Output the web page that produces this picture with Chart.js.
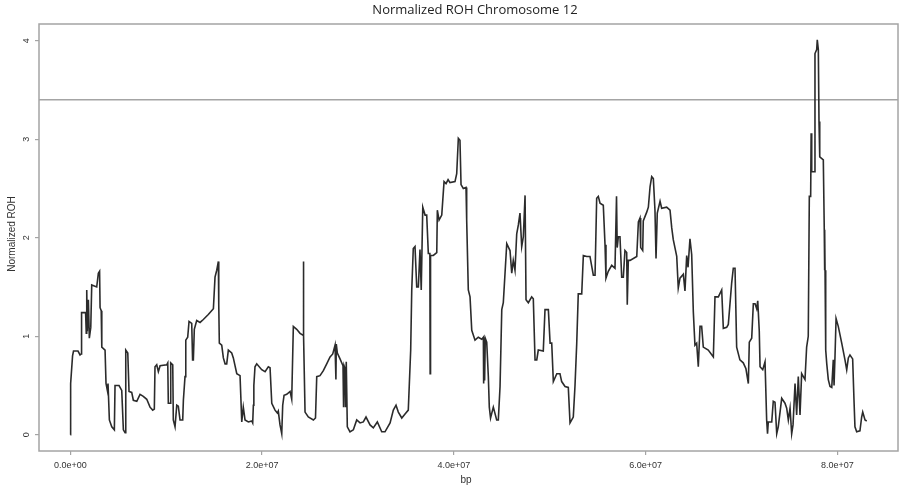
<!DOCTYPE html>
<html>
<head>
<meta charset="utf-8">
<title>Normalized ROH Chromosome 12</title>
<script src="https://cdn.jsdelivr.net/npm/chart.js@4.4.0/dist/chart.umd.min.js"></script>
<style>
    html, body { margin: 0; padding: 0; background: #ffffff; }
    #wrap { width: 902px; height: 489px; }
</style>
</head>
<body>
<div id="wrap"><canvas id="rohChart"></canvas></div>
<script>
// window positions along chromosome 12, in Mb
const positionMb = [
    0.00, 0.03, 0.23, 0.33, 0.80, 1.01, 1.12, 1.17, 1.59, 1.66, 1.71, 1.77, 1.88, 1.98, 2.13, 2.23, 2.75, 2.92, 3.05, 3.10,
    3.22, 3.28, 3.62, 3.72, 3.86, 3.93, 4.07, 4.32, 4.59, 4.66, 5.08, 5.36, 5.53, 5.71, 5.78, 5.99, 6.12, 6.40, 6.57, 6.93,
    7.27, 7.61, 7.97, 8.31, 8.59, 8.76, 8.83, 9.01, 9.18, 9.36, 10.05, 10.16, 10.22, 10.40, 10.47, 10.68, 10.74, 10.92, 11.10, 11.26,
    11.44, 11.72, 11.79, 11.96, 12.04, 12.24, 12.38, 12.66, 12.75, 12.83, 12.93, 13.18, 13.53, 13.87, 14.39, 14.92, 15.09, 15.27, 15.44, 15.48,
    15.54, 15.79, 15.96, 16.14, 16.31, 16.48, 16.83, 17.00, 17.36, 17.70, 17.88, 18.04, 18.22, 18.57, 18.92, 19.02, 19.09, 19.14, 19.26, 19.44,
    19.96, 20.31, 20.65, 20.83, 21.01, 21.35, 21.59, 21.69, 21.87, 22.05, 22.15, 22.29, 22.57, 22.92, 23.09, 23.26, 23.61, 23.96, 24.27, 24.30,
    24.35, 24.48, 24.82, 25.35, 25.57, 25.70, 26.04, 26.39, 26.74, 27.09, 27.37, 27.61, 27.70, 27.74, 27.85, 28.13, 28.44, 28.50, 28.55, 28.65,
    28.70, 28.78, 28.89, 29.17, 29.52, 29.87, 30.22, 30.56, 30.84, 31.26, 31.60, 32.02, 32.48, 32.82, 33.35, 33.69, 33.97, 34.21, 34.57, 34.91,
    35.25, 35.50, 35.61, 35.77, 35.95, 36.13, 36.30, 36.47, 36.60, 36.76, 37.00, 37.17, 37.34, 37.50, 37.53, 37.57, 37.86, 38.22, 38.28, 38.46,
    38.74, 38.98, 39.19, 39.40, 39.60, 40.12, 40.30, 40.47, 40.64, 40.75, 40.99, 41.27, 41.34, 41.51, 41.69, 41.87, 42.21, 42.55, 42.91, 43.08,
    43.11, 43.17, 43.21, 43.28, 43.43, 43.60, 43.70, 43.83, 44.12, 44.47, 44.64, 44.82, 45.00, 45.16, 45.34, 45.52, 45.86, 46.04, 46.20, 46.38,
    46.56, 46.73, 46.90, 47.08, 47.25, 47.43, 47.53, 47.77, 48.12, 48.29, 48.47, 48.65, 48.81, 49.33, 49.51, 49.86, 50.04, 50.21, 50.38, 50.74,
    51.07, 51.25, 51.60, 51.94, 52.12, 52.46, 52.64, 52.82, 52.98, 53.34, 53.51, 53.86, 54.20, 54.55, 54.73, 54.90, 55.07, 55.25, 55.59, 55.77,
    55.87, 56.11, 56.47, 56.81, 56.97, 57.04, 57.16, 57.33, 57.51, 57.68, 57.85, 58.03, 58.09, 58.20, 58.38, 59.08, 59.25, 59.42, 59.49, 59.70,
    59.76, 60.12, 60.29, 60.47, 60.64, 60.81, 60.98, 61.09, 61.22, 61.51, 61.68, 62.20, 62.55, 62.73, 62.89, 63.25, 63.41, 63.59, 63.94, 64.11,
    64.29, 64.43, 64.63, 64.81, 64.98, 65.15, 65.33, 65.50, 65.68, 65.85, 66.02, 66.54, 67.07, 67.24, 67.59, 67.94, 68.11, 68.46, 68.63, 68.98,
    69.15, 69.33, 69.50, 69.84, 70.19, 70.47, 70.72, 70.82, 71.07, 71.24, 71.42, 71.59, 71.70, 71.86, 71.94, 72.22, 72.46, 72.63, 72.72, 72.80,
    73.16, 73.32, 73.50, 73.68, 73.84, 74.20, 74.54, 74.72, 74.89, 75.07, 75.24, 75.38, 75.59, 75.76, 75.93, 76.11, 76.28, 76.63, 76.80, 76.97,
    77.08, 77.22, 77.27, 77.33, 77.60, 77.67, 77.85, 77.91, 78.02, 78.09, 78.14, 78.17, 78.19, 78.54, 78.64, 78.67, 78.69, 78.72, 78.79, 78.90,
    79.06, 79.24, 79.42, 79.58, 79.66, 79.76, 79.87, 80.10, 80.46, 80.80, 80.98, 81.15, 81.32, 81.60, 81.74, 81.84, 82.02, 82.36, 82.54, 82.65,
    82.89, 83.07
];

const normalizedRoh = [
    0.00, 0.52, 0.80, 0.85, 0.85, 0.81, 0.82, 1.24, 1.24, 1.03, 1.47, 1.05, 1.37, 0.98, 1.09, 1.52, 1.50, 1.64, 1.66, 1.29,
    1.26, 0.89, 0.86, 0.52, 0.45, 0.52, 0.15, 0.08, 0.05, 0.50, 0.50, 0.45, 0.05, 0.02, 0.86, 0.83, 0.44, 0.43, 0.35, 0.34,
    0.41, 0.39, 0.36, 0.28, 0.25, 0.26, 0.69, 0.71, 0.64, 0.70, 0.71, 0.73, 0.32, 0.32, 0.73, 0.71, 0.15, 0.08, 0.30, 0.29,
    0.15, 0.15, 0.35, 0.59, 0.96, 0.99, 1.15, 1.13, 0.76, 0.76, 1.07, 1.16, 1.14, 1.17, 1.22, 1.28, 1.60, 1.67, 1.76, 1.32,
    0.93, 0.91, 0.78, 0.72, 0.72, 0.86, 0.83, 0.78, 0.62, 0.60, 0.13, 0.28, 0.15, 0.13, 0.14, 0.12, 0.30, 0.50, 0.69, 0.72,
    0.66, 0.64, 0.69, 0.68, 0.32, 0.25, 0.22, 0.24, 0.10, 0.01, 0.30, 0.40, 0.41, 0.44, 0.36, 1.10, 1.07, 1.03, 1.01, 1.76,
    1.01, 0.23, 0.18, 0.15, 0.17, 0.59, 0.60, 0.65, 0.72, 0.79, 0.82, 0.91, 0.56, 0.92, 0.83, 0.77, 0.70, 0.28, 0.70, 0.67,
    0.28, 0.74, 0.08, 0.03, 0.05, 0.15, 0.12, 0.13, 0.18, 0.10, 0.07, 0.13, 0.03, 0.03, 0.12, 0.25, 0.30, 0.23, 0.17, 0.21,
    0.25, 0.86, 1.47, 1.89, 1.91, 1.50, 1.50, 1.88, 1.47, 2.31, 2.23, 2.23, 1.84, 1.84, 0.62, 1.82, 1.82, 1.85, 2.28, 2.18,
    2.23, 2.57, 2.55, 2.59, 2.56, 2.57, 2.65, 3.01, 2.99, 2.54, 2.50, 2.51, 2.18, 1.47, 1.40, 1.06, 0.96, 0.99, 0.97, 0.99,
    0.52, 0.97, 0.55, 0.98, 0.94, 0.59, 0.28, 0.17, 0.28, 0.15, 0.15, 0.49, 1.27, 1.34, 1.64, 1.94, 1.87, 1.64, 1.77, 1.67,
    2.04, 2.13, 2.25, 1.91, 2.01, 2.43, 1.37, 1.34, 1.40, 1.38, 0.76, 0.76, 0.86, 0.85, 1.27, 1.27, 0.93, 0.93, 0.54, 0.62,
    0.62, 0.54, 0.49, 0.48, 0.12, 0.18, 0.50, 0.93, 1.43, 1.43, 1.82, 1.81, 1.81, 1.62, 1.62, 2.40, 2.42, 2.35, 2.33, 1.93,
    1.59, 1.66, 1.72, 1.69, 2.42, 1.90, 2.01, 2.01, 1.60, 1.60, 1.87, 1.85, 1.32, 1.77, 1.77, 1.81, 2.16, 2.20, 1.90, 1.87,
    2.17, 2.26, 2.31, 2.52, 2.62, 2.60, 2.28, 1.79, 2.25, 2.37, 2.30, 2.31, 2.28, 2.10, 1.98, 1.81, 1.49, 1.59, 1.63, 1.46,
    1.82, 1.70, 1.99, 1.83, 1.25, 0.91, 0.93, 0.69, 1.10, 1.10, 0.89, 0.86, 0.79, 1.40, 1.40, 1.47, 1.08, 1.09, 1.12, 1.54,
    1.69, 1.69, 0.89, 0.76, 0.73, 0.67, 0.52, 0.94, 0.98, 1.33, 1.33, 1.28, 1.36, 1.05, 0.69, 0.66, 0.74, 0.15, 0.01, 0.13,
    0.13, 0.34, 0.33, 0.01, 0.08, 0.37, 0.32, 0.27, 0.15, 0.27, 0.01, 0.10, 0.52, 0.20, 0.59, 0.20, 0.62, 0.56, 0.89, 1.00,
    2.42, 2.42, 3.06, 2.67, 2.67, 3.87, 3.91, 4.01, 3.91, 3.18, 2.82, 3.18, 2.82, 2.79, 2.08, 1.67, 2.08, 1.67, 0.86, 0.72,
    0.56, 0.49, 0.48, 0.76, 0.50, 0.80, 1.18, 1.10, 0.93, 0.76, 0.66, 0.78, 0.81, 0.77, 0.35, 0.08, 0.03, 0.04, 0.18, 0.23,
    0.15, 0.14
];

const xTicks = [0, 2e7, 4e7, 6e7, 8e7];
const xTickLabels = ["0.0e+00", "2.0e+07", "4.0e+07", "6.0e+07", "8.0e+07"];
const yTicks = [0, 1, 2, 3, 4];
const threshold = 3.4;

// R-style ranges: data range padded by 4% on each side
const xMin = -3.27e6, xMax = 86.33e6;
const yMin = -0.165, yMax = 4.17;

const rohPoints = positionMb.map((mb, i) => ({ x: mb * 1e6, y: normalizedRoh[i] }));

const BOX_GREY = "#a4a4a4";
const TEXT = "#333333";
const LABEL_FONT = "'Liberation Sans', Arial, sans-serif";

// box, tick labels and titles drawn the way base R lays them out
const rPlotFrame = {
    id: "rPlotFrame",
    afterDraw(chart) {
        const { ctx, chartArea: area, scales } = chart;
        ctx.save();

        ctx.strokeStyle = BOX_GREY;
        ctx.lineWidth = 1.5;
        ctx.strokeRect(area.left, area.top, area.right - area.left, area.bottom - area.top);

        ctx.fillStyle = TEXT;
        ctx.textAlign = "center";
        ctx.textBaseline = "middle";
        ctx.font = "9px " + LABEL_FONT;
        xTicks.forEach((value, i) => {
            ctx.fillText(xTickLabels[i], scales.x.getPixelForValue(value), 466);
        });
        yTicks.forEach((value) => {
            ctx.save();
            ctx.translate(26.5, scales.y.getPixelForValue(value));
            ctx.rotate(-Math.PI / 2);
            ctx.fillText(String(value), 0, 0);
            ctx.restore();
        });

        ctx.font = "10px " + LABEL_FONT;
        ctx.fillText("bp", 466, 480);
        ctx.save();
        ctx.translate(12, 234);
        ctx.rotate(-Math.PI / 2);
        ctx.fillText("Normalized ROH", 0, 0);
        ctx.restore();

        ctx.font = "13px 'Open Sans', sans-serif";
        ctx.fillStyle = "#222222";
        ctx.fillText("Normalized ROH Chromosome 12", 475, 10);

        ctx.restore();
    }
};

new Chart(document.getElementById("rohChart"), {
    type: "line",
    data: {
        datasets: [
            {
                label: "Normalized ROH",
                data: rohPoints,
                borderColor: "#2b2b2b",
                borderWidth: 1.6,
                pointRadius: 0,
                tension: 0,
                fill: false
            },
            {
                label: "threshold",
                data: [{ x: xMin, y: threshold }, { x: xMax, y: threshold }],
                borderColor: BOX_GREY,
                borderWidth: 1.5,
                pointRadius: 0,
                fill: false
            }
        ]
    },
    options: {
        responsive: true,
        maintainAspectRatio: false,
        animation: false,
        events: [],
        layout: { padding: { top: 24, right: 4, left: 0, bottom: 0 } },
        plugins: {
            legend: { display: false },
            title: { display: false },
            tooltip: { enabled: false }
        },
        scales: {
            x: {
                type: "linear",
                min: xMin,
                max: xMax,
                afterBuildTicks: (scale) => { scale.ticks = xTicks.map((v) => ({ value: v })); },
                afterFit: (scale) => { scale.height = 38; },
                ticks: { display: false },
                grid: { drawOnChartArea: false, drawTicks: true, tickLength: 4, color: BOX_GREY, lineWidth: 1.2 },
                border: { display: false }
            },
            y: {
                type: "linear",
                min: yMin,
                max: yMax,
                afterBuildTicks: (scale) => { scale.ticks = yTicks.map((v) => ({ value: v })); },
                afterFit: (scale) => { scale.width = 39; },
                ticks: { display: false },
                grid: { drawOnChartArea: false, drawTicks: true, tickLength: 4, color: BOX_GREY, lineWidth: 1.2 },
                border: { display: false }
            }
        }
    },
    plugins: [rPlotFrame]
});
</script>
</body>
</html>
